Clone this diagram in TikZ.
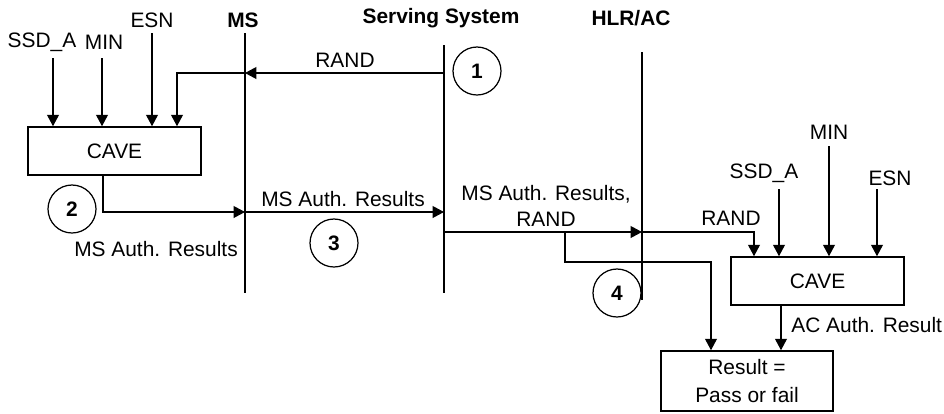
\documentclass[tikz,border=0pt]{standalone}
\usepackage{fontspec}
\setmainfont{Liberation Sans}
\usetikzlibrary{arrows.meta}

\begin{document}
\begin{tikzpicture}[x=0.02cm,y=-0.02cm,line cap=butt,line join=miter,
  txt/.style={inner sep=0pt,font=\fontsize{11.9}{15}\selectfont},
  head/.style={inner sep=0pt,font=\fontsize{11.9}{15}\selectfont\bfseries},
  life/.style={line width=1.6pt},
  wire/.style={line width=0.6pt},
  msg/.style={wire,-{Triangle[length=6.5pt,width=6.8pt]}},
  cavebox/.style={draw,line width=0.9pt,minimum width=3.46cm,minimum height=0.96cm,
    inner sep=0pt,font=\fontsize{11.9}{15}\selectfont},
  num/.style={draw,circle,line width=0.7pt,minimum size=0.96cm,inner sep=0pt,
    font=\fontsize{11.9}{15}\selectfont\bfseries}]
  \useasboundingbox (0,0) rectangle (944,413);
  % lifelines
  \node[head] (msHead) at (243,20) {MS};
  \node[head] (ssHead) at (441,18) {Serving System};
  \node[head] (hlrHead) at (631,18) {HLR/AC};
  \coordinate (msT) at (245,33);
  \coordinate (msB) at (245,293);
  \coordinate (ssT) at (444,45);
  \coordinate (ssB) at (444,293);
  \coordinate (hlrT) at (642,52);
  \coordinate (hlrB) at (642,300);
  \draw[life] (msT) -- (msB);
  \draw[life] (ssT) -- (ssB);
  \draw[life] (hlrT) -- (hlrB);
  % MS side
  \node[cavebox] (caveMS) at (114.5,151) {CAVE};
  \node[txt] (ssdMS) at (42,42) {SSD\_A};
  \node[txt] (minMS) at (104,42) {MIN};
  \node[txt] (esnMS) at (152,20) {ESN};
  \coordinate (ssdMSin) at (53,58);
  \coordinate (minMSin) at (102,58);
  \coordinate (esnMSin) at (152,33);
  \draw[msg] (ssdMSin) -- (ssdMSin |- caveMS.north);
  \draw[msg] (minMSin) -- (minMSin |- caveMS.north);
  \draw[msg] (esnMSin) -- (esnMSin |- caveMS.north);
  \coordinate (randSS) at (444,73);
  \coordinate (randMS) at (245,73);
  \coordinate (randMSb) at (177,73);
  \draw[msg] (randSS) -- (randMS);
  \draw[msg] (randMS) -- (randMSb) -- (randMSb |- caveMS.north);
  \node[txt] (randLbl) at (345,60) {RAND};
  \node[num] (n1) at (477,71) {1};
  \coordinate (outMS) at (103,212);
  \coordinate (resMS) at (245,212);
  \draw[msg] (caveMS.south -| outMS) -- (outMS) -- (resMS);
  \node[num] (n2) at (72,209) {2};
  \node[txt] (resMSLbl) at (156,249) {MS Auth. Results};
  % MS to serving system
  \coordinate (resSS) at (444,212);
  \draw[msg] (resMS) -- (resSS);
  \node[txt] (resSSLbl) at (343,199) {MS Auth. Results};
  \node[num] (n3) at (334,243) {3};
  % serving system to HLR/AC
  \coordinate (fwdSS) at (444,232);
  \coordinate (fwdHLR) at (642,232);
  \draw[msg] (fwdSS) -- (fwdHLR);
  \node[txt,align=center] (fwdLbl) at (546,206) {MS Auth. Results,\\RAND};
  \node[num] (n4) at (617,293) {4};
  % HLR/AC side
  \node[cavebox] (caveAC) at (817.5,281) {CAVE};
  \node[draw,line width=0.9pt,minimum width=3.44cm,minimum height=1.2cm,inner sep=0pt,
    align=center,font=\fontsize{11.9}{15.5}\selectfont] (result) at (747,381)
    {Result =\\Pass or fail};
  \coordinate (randACb) at (754,232);
  \draw[msg] (fwdHLR) -- (randACb) -- (randACb |- caveAC.north);
  \node[txt] (randACLbl) at (731,218) {RAND};
  \node[txt] (ssdAC) at (764,173) {SSD\_A};
  \node[txt] (minAC) at (829,132) {MIN};
  \node[txt] (esnAC) at (890,178) {ESN};
  \coordinate (ssdACin) at (779,189);
  \coordinate (minACin) at (829,146);
  \coordinate (esnACin) at (877,189);
  \draw[msg] (ssdACin) -- (ssdACin |- caveAC.north);
  \draw[msg] (minACin) -- (minACin |- caveAC.north);
  \draw[msg] (esnACin) -- (esnACin |- caveAC.north);
  \coordinate (tapSS) at (565,232);
  \coordinate (tapLow) at (565,262);
  \coordinate (tapRes) at (711,262);
  \draw[msg] (tapSS) -- (tapLow) -- (tapRes) -- (tapRes |- result.north);
  \coordinate (outAC) at (781,305);
  \draw[msg] (outAC) -- (outAC |- result.north);
  \node[txt,anchor=west] (acLbl) at (791,325) {AC Auth. Result};
\end{tikzpicture}
\end{document}
